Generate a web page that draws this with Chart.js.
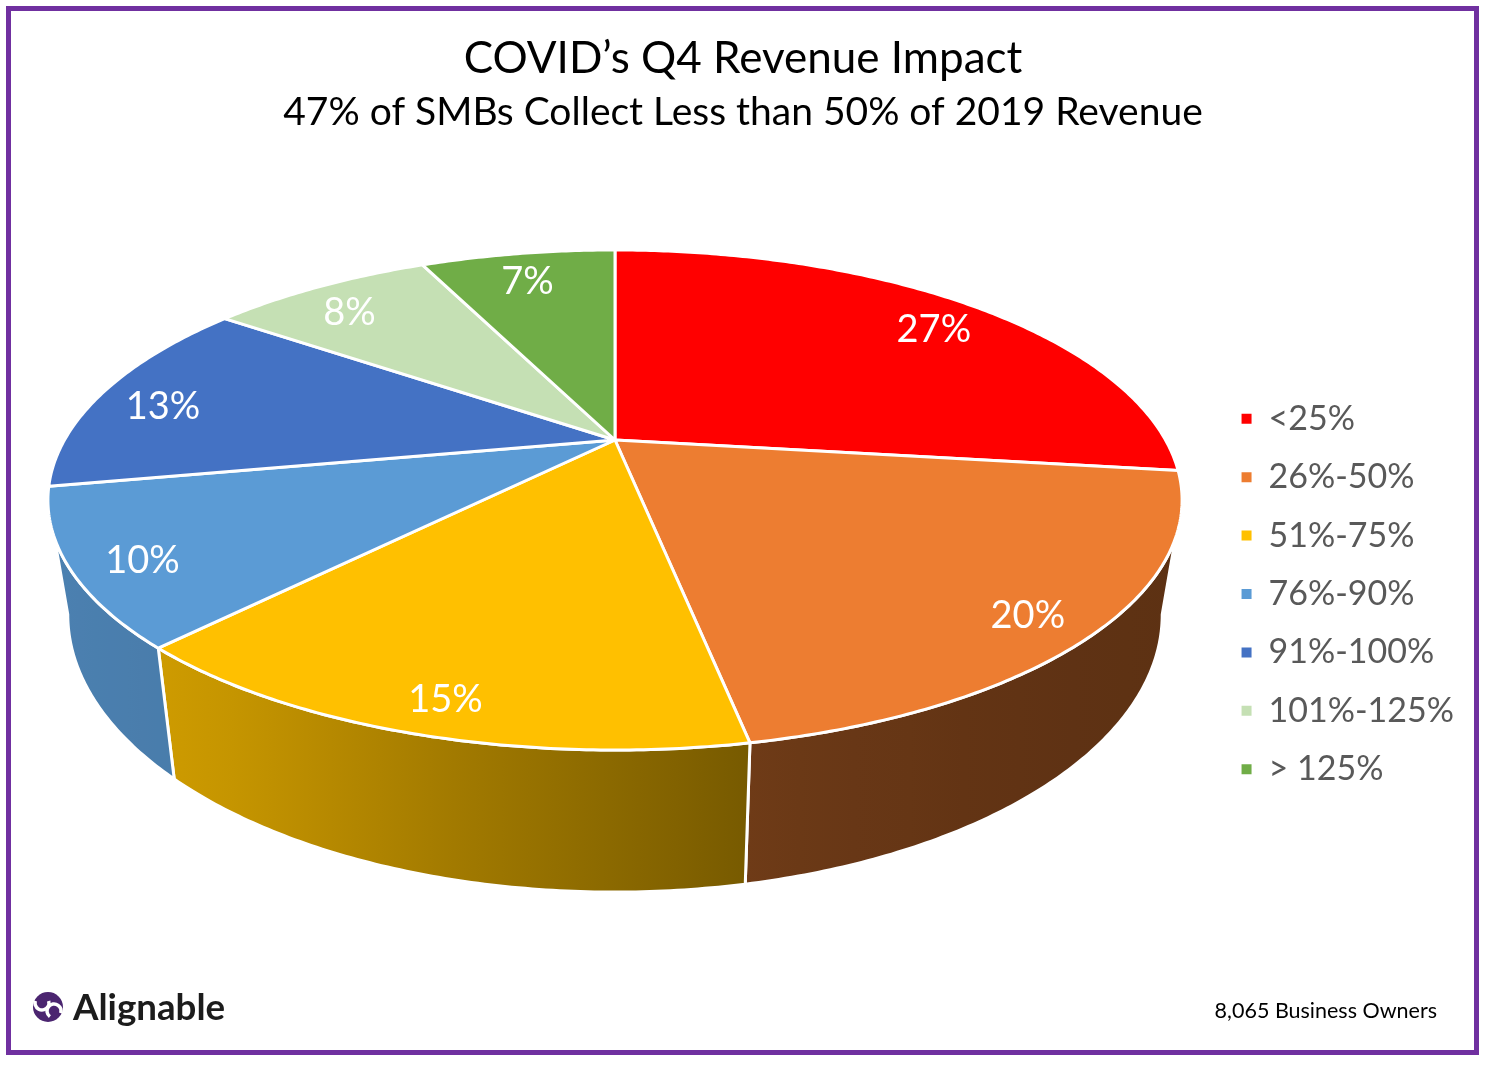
<!DOCTYPE html>
<html><head><meta charset="utf-8">
<script src="https://cdn.jsdelivr.net/npm/chart.js@4/dist/chart.umd.min.js"></script>
<style>html,body{margin:0;padding:0;background:#fff;} canvas{display:block;}</style>
</head><body><canvas id="c" width="1486" height="1068"></canvas>
<script>
// ---------- data ----------
const categories = ['<25%', '26%-50%', '51%-75%', '76%-90%', '91%-100%', '101%-125%', '> 125%'];
const shares = [27, 20, 15, 10, 13, 8, 7];
const sliceColors = ['#FF0000', '#ED7D31', '#FFC000', '#5B9BD5', '#4472C4', '#C5E0B4', '#70AD47'];
const titleText = 'COVID’s Q4 Revenue Impact';
const subtitleText = '47% of SMBs Collect Less than 50% of 2019 Revenue';
const footnoteText = '8,065 Business Owners';
const brandText = 'Alignable';

// ---------- 3D perspective styling ----------
const PIE = {cx: 615, cy: 440, rx: 550.5, ry: 235.6, k: -0.24, depth: 108, shrink: 0.965, labelR: 0.88, labelDy: 10};
const SHADE = [[-1.05, .83], [-0.77, .80], [-0.25, .62], [0.27, .46], [0.7, .41], [1.05, .39]];

function proj(theta, r, bottom) {
  const u = r * Math.cos(theta), v = r * Math.sin(theta);
  const w = 1 + PIE.k * v;
  const sx = bottom ? PIE.shrink : 1;
  return [PIE.cx + sx * PIE.rx * u / w, PIE.cy + PIE.ry * v / w + (bottom ? PIE.depth / w : 0)];
}
function shadeAt(x) {
  const t = (x - PIE.cx) / PIE.rx;
  if (t <= SHADE[0][0]) return SHADE[0][1];
  for (let i = 1; i < SHADE.length; i++) {
    if (t <= SHADE[i][0]) {
      const [t0, f0] = SHADE[i - 1], [t1, f1] = SHADE[i];
      return f0 + (f1 - f0) * (t - t0) / (t1 - t0);
    }
  }
  return SHADE[SHADE.length - 1][1];
}
function scaleColor(hex, f) {
  const n = parseInt(hex.slice(1), 16);
  const r = Math.round(((n >> 16) & 255) * f), g = Math.round(((n >> 8) & 255) * f), b = Math.round((n & 255) * f);
  return `rgb(${r},${g},${b})`;
}
function arcPts(a0, a1, bottom) {
  const n = Math.max(2, Math.ceil((a1 - a0) / 0.01));
  const pts = [];
  for (let i = 0; i <= n; i++) pts.push(proj(a0 + (a1 - a0) * i / n, 1, bottom));
  return pts;
}

const pie3d = {
  id: 'pie3d',
  beforeDraw(chart) {
    const ctx = chart.ctx;
    ctx.save();
    ctx.fillStyle = '#fff';
    ctx.fillRect(0, 0, chart.width, chart.height);
    ctx.restore();
  },
  beforeDatasetsDraw(chart) {
    const ctx = chart.ctx;
    const arcs = chart.getDatasetMeta(0).data;
    const thR = Math.asin(-PIE.k), thL = Math.PI - thR;
    ctx.save();
    ctx.lineJoin = 'round';
    ctx.strokeStyle = '#fff';
    ctx.lineWidth = 3;
    // side walls (front, visible part)
    arcs.forEach((arc, i) => {
      const lo = Math.max(arc.startAngle, thR), hi = Math.min(arc.endAngle, thL);
      if (hi <= lo) return;
      const top = arcPts(lo, hi, false), bot = arcPts(lo, hi, true).reverse();
      const all = top.concat(bot);
      const xs = all.map(p => p[0]);
      const x0 = Math.min(...xs), x1 = Math.max(...xs);
      const g = ctx.createLinearGradient(x0, 0, x1, 0);
      for (let s = 0; s <= 8; s++) {
        const x = x0 + (x1 - x0) * s / 8;
        g.addColorStop(s / 8, scaleColor(sliceColors[i], shadeAt(x)));
      }
      ctx.beginPath();
      all.forEach((p, j) => j ? ctx.lineTo(p[0], p[1]) : ctx.moveTo(p[0], p[1]));
      ctx.closePath();
      ctx.fillStyle = g;
      ctx.fill();
      ctx.stroke();
    });
    // top faces
    arcs.forEach((arc, i) => {
      const pts = arcPts(arc.startAngle, arc.endAngle, false);
      ctx.beginPath();
      ctx.moveTo(PIE.cx, PIE.cy);
      pts.forEach(p => ctx.lineTo(p[0], p[1]));
      ctx.closePath();
      ctx.fillStyle = sliceColors[i];
      ctx.fill();
      ctx.stroke();
    });
    // data labels
    ctx.fillStyle = '#fff';
    ctx.font = '38px Lato';
    ctx.textAlign = 'center';
    ctx.textBaseline = 'middle';
    arcs.forEach((arc, i) => {
      const mid = (arc.startAngle + arc.endAngle) / 2;
      const p = proj(mid, PIE.labelR, false);
      ctx.fillText(shares[i] + '%', p[0], p[1] + PIE.labelDy);
    });
    ctx.restore();
    return false;
  },
  afterDraw(chart) {
    const ctx = chart.ctx;
    ctx.save();
    // frame
    ctx.strokeStyle = '#7030A0';
    ctx.lineWidth = 5;
    ctx.strokeRect(8.5, 8.5, 1468, 1044);
    // footnote
    ctx.fillStyle = '#000';
    ctx.font = '21.5px Lato';
    ctx.textAlign = 'right';
    ctx.textBaseline = 'middle';
    ctx.fillText(footnoteText, 1437, 1011);
    // brand icon
    ctx.fillStyle = '#4B2570';
    ctx.beginPath();
    ctx.arc(48, 1007, 15, 0, Math.PI * 2);
    ctx.fill();
    ctx.strokeStyle = '#fff';
    ctx.lineWidth = 3.5;
    ctx.beginPath();
    ctx.arc(42, 1003, 7, -0.3, Math.PI * 1.1);
    ctx.stroke();
    ctx.beginPath();
    ctx.arc(54, 1011, 7, Math.PI * 0.7, Math.PI * 2.1);
    ctx.stroke();
    // brand text
    ctx.fillStyle = '#1c1c1c';
    ctx.textAlign = 'left';
    ctx.textBaseline = 'alphabetic';
    ctx.font = 'bold 40px Lato';
    const w = ctx.measureText(brandText).width;
    const size = 40 * 152 / w;
    ctx.font = `bold ${size.toFixed(1)}px Lato`;
    ctx.fillText(brandText, 73, 1020);
    ctx.restore();
  }
};

new Chart(document.getElementById('c'), {
  type: 'pie',
  data: {
    labels: categories,
    datasets: [{data: shares, backgroundColor: sliceColors, borderWidth: 0}]
  },
  options: {
    responsive: false,
    animation: false,
    devicePixelRatio: 1,
    layout: {padding: {top: 20, bottom: 20, left: 22, right: 22}},
    plugins: {
      tooltip: {enabled: false},
      title: {display: true, text: titleText, color: '#000', font: {family: 'Lato', size: 44, weight: 'normal'}, padding: {top: 12, bottom: 0}},
      subtitle: {display: true, text: subtitleText, color: '#000', font: {family: 'Lato', size: 39, weight: 'normal'}, padding: {top: 4, bottom: 10}},
      legend: {
        position: 'right',
        title: {display: true, text: ' ', font: {size: 10}, padding: {top: 54, bottom: 54}},
        labels: {color: '#595959', font: {family: 'Lato', size: 34}, boxWidth: 10, boxHeight: 10, padding: 24.4}
      }
    }
  },
  plugins: [pie3d]
});
</script>
</body></html>
